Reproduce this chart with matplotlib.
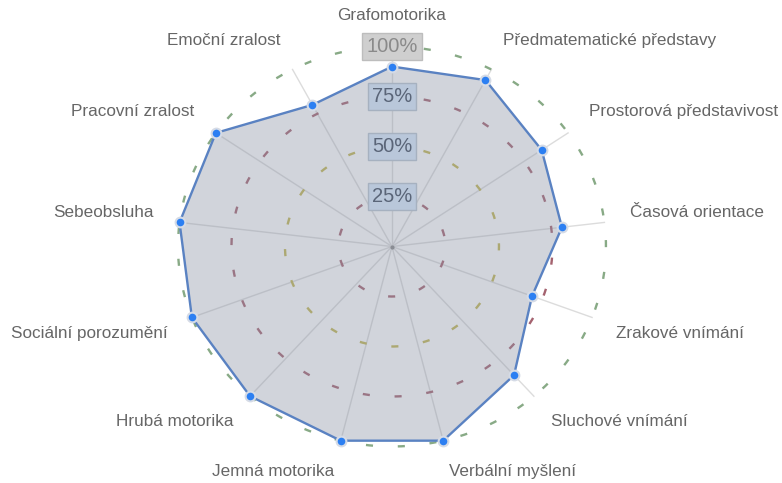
import numpy as np
import matplotlib
matplotlib.use("Agg")
import matplotlib.pyplot as plt

plt.rcParams["font.family"] = ["Liberation Sans", "DejaVu Sans"]

# data (percent)
categories = [
    "Grafomotorika",
    "Předmatematické představy",
    "Prostorová představivost",
    "Časová orientace",
    "Zrakové vnímání",
    "Sluchové vnímání",
    "Verbální myšlení",
    "Jemná motorika",
    "Hrubá motorika",
    "Sociální porozumění",
    "Sebeobsluha",
    "Pracovní zralost",
    "Emoční zralost",
]
values = [90, 94, 85, 80, 70, 86, 100, 100, 100, 100, 100, 100, 80]
ring_levels = [25, 50, 75, 100]
ring_colors = ["#a4626f", "#c2b650", "#a4626f", "#88aa86"]
tick_labels = ["25%", "50%", "75%", "100%"]

n = len(categories)
angles = np.arange(n) * 2 * np.pi / n

fig = plt.figure(figsize=(7.82, 4.83), dpi=100)
# chart in the reference is a bit wider than tall, so let the polar axes stretch
ax = fig.add_axes([0.2276, 0.0756, 0.5473, 0.828], projection="polar")
ax.set_theta_offset(np.pi / 2)
ax.set_theta_direction(-1)
ax.set_ylim(0, 100)
ax.set_aspect("auto")
ax.grid(False)
ax.set_xticks([])
ax.set_yticks([])
ax.spines["polar"].set_visible(False)
ax.patch.set_alpha(0)

# spokes
for a in angles:
    ax.plot([a, a], [0, 100], color="#dcdcdc", lw=1, zorder=1, clip_on=False)

# dashed rings
theta = np.linspace(0, 2 * np.pi, 500)
for lvl, col in zip(ring_levels, ring_colors):
    ax.plot(theta, np.full_like(theta, lvl), color=col, lw=1.7,
            dashes=(3, 10.5), zorder=1, clip_on=False)

# centre dot
ax.plot([0], [0], "o", ms=2, color="#888888", zorder=2)

# filled area + outline + points
closed_a = np.append(angles, angles[0])
closed_v = np.append(values, values[0])
ax.fill(closed_a, closed_v, color=(0.55, 0.58, 0.65), alpha=0.4, lw=0, zorder=2)
ax.plot(closed_a, closed_v, color="#5a82c2", lw=1.7, zorder=3, clip_on=False)
ax.plot(angles, values, "o", ms=7, mfc="#2c7ff2", mec="#d5dbe6", mew=1.5,
        zorder=4, clip_on=False)

# scale labels with boxes
for lvl, lab in zip(ring_levels, tick_labels):
    if lvl == 100:
        fc, ec, tc = "#cfcfcf", "#bdbdbd", "#8a8a8a"
    else:
        fc, ec, tc = "#b9c7da", "#a6b1c0", "#5a6578"
    ax.text(0, lvl, lab, ha="center", va="center", fontsize=14.5, color=tc,
            zorder=5, bbox=dict(boxstyle="square,pad=0.2", fc=fc, ec=ec, lw=1))

# category labels
for a, cat in zip(angles, categories):
    s, c = np.sin(a), np.cos(a)
    if abs(s) < 1e-6:
        ha = "center"
    elif s > 0:
        ha = "left"
    else:
        ha = "right"
    va = "bottom" if c > 0 else "top"
    ax.text(a, 112, cat, ha=ha, va=va, fontsize=12.3, color="#666666")

fig.savefig("out.png", dpi=100)
